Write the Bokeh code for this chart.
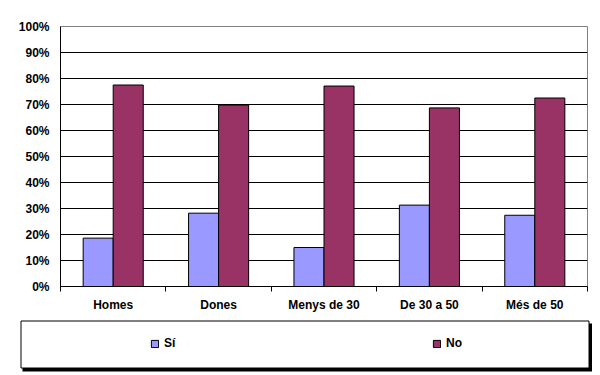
from bokeh.plotting import figure
from bokeh.layouts import column
from bokeh.models import (FixedTicker, PrintfTickFormatter, Range1d, Legend, LegendItem,
                          BoxAnnotation, ColumnDataSource)
from bokeh.embed import file_html
from bokeh.resources import INLINE

categories = ["Homes", "Dones", "Menys de 30", "De 30 a 50", "Més de 50"]
si_values = [18.6, 28.2, 15.0, 31.3, 27.4]
no_values = [77.5, 69.8, 77.1, 68.7, 72.5]
y_ticks = [0, 10, 20, 30, 40, 50, 60, 70, 80, 90, 100]
series_names = ["Sí", "No"]
series_colors = ["#9999FF", "#993366"]

FONT = "Liberation Sans"
n = len(categories)
centers = [i + 0.5 for i in range(n)]
bw = 0.285

src = ColumnDataSource(dict(
    x_si=[c - bw / 2 for c in centers],
    x_no=[c + bw / 2 for c in centers],
    si=si_values,
    no=no_values,
))

# ---------------- main chart ----------------
p = figure(width=592, height=316, x_range=Range1d(0, n), y_range=Range1d(0, 100),
           output_backend="svg", toolbar_location=None,
           min_border_left=60, min_border_right=5, min_border_top=26, min_border_bottom=30)
p.frame_align = False
p.background_fill_color = "white"
p.border_fill_color = "white"
p.outline_line_color = "#808080"
p.outline_line_width = 1

p.vbar(x="x_si", top="si", width=bw, source=src, fill_color=series_colors[0],
       line_color="black", line_width=1)
p.vbar(x="x_no", top="no", width=bw, source=src, fill_color=series_colors[1],
       line_color="black", line_width=1)

p.yaxis.ticker = FixedTicker(ticks=y_ticks)
p.yaxis.formatter = PrintfTickFormatter(format="%d%%")
p.yaxis.major_tick_out = 0
p.yaxis.major_tick_in = 0
p.yaxis.minor_tick_out = 0
p.yaxis.minor_tick_in = 0
p.yaxis.major_label_standoff = 11
p.yaxis.axis_line_color = "black"

p.xaxis.ticker = FixedTicker(ticks=centers, minor_ticks=list(range(n + 1)))
p.xaxis.major_label_overrides = {c: cat for c, cat in zip(centers, categories)}
p.xaxis.major_tick_out = 0
p.xaxis.major_tick_in = 0
p.xaxis.minor_tick_out = 5
p.xaxis.minor_tick_in = 0
p.xaxis.minor_tick_line_color = "black"
p.xaxis.major_label_standoff = 6
p.xaxis.axis_line_color = "black"

for ax in (p.xaxis, p.yaxis):
    ax.major_label_text_font = FONT
    ax.major_label_text_font_style = "bold"
    ax.major_label_text_font_size = "12px"
    ax.major_label_text_color = "black"

p.xgrid.visible = False
p.ygrid.ticker = FixedTicker(ticks=y_ticks[1:-1])
p.ygrid.grid_line_color = "black"
p.ygrid.grid_line_width = 1

# ---------------- legend panel ----------------
lp = figure(width=592, height=59, x_range=Range1d(-10, -9), y_range=Range1d(0, 1),
            output_backend="svg", toolbar_location=None,
            x_axis_type=None, y_axis_type=None,
            min_border_left=0, min_border_right=0, min_border_top=0, min_border_bottom=0)
lp.frame_align = False
lp.outline_line_color = None
lp.background_fill_color = "white"
lp.border_fill_color = "white"
lp.xgrid.visible = False
lp.ygrid.visible = False

l_si = lp.vbar(x="x_si", top="si", width=bw, source=src, fill_color=series_colors[0],
               line_color="black", line_width=1)
l_no = lp.vbar(x="x_no", top="no", width=bw, source=src, fill_color=series_colors[1],
               line_color="black", line_width=1)

shadow = BoxAnnotation(left=22, right=592, top=52, bottom=4,
                       left_units="screen", right_units="screen",
                       top_units="screen", bottom_units="screen",
                       fill_color="black", fill_alpha=1, line_alpha=0)
box = BoxAnnotation(left=20.5, right=588.5, top=54.5, bottom=7.5,
                    left_units="screen", right_units="screen",
                    top_units="screen", bottom_units="screen",
                    fill_color="white", fill_alpha=1, line_color="black", line_width=1,
                    line_alpha=1)
lp.add_layout(shadow)
lp.add_layout(box)

legend = Legend(items=[LegendItem(label=series_names[0], renderers=[l_si]),
                       LegendItem(label=series_names[1], renderers=[l_no])],
                orientation="horizontal", location=(150, 25),
                padding=0, margin=0, spacing=168,
                glyph_width=9, glyph_height=9, label_width=100, label_height=9,
                label_standoff=5,
                border_line_alpha=0, background_fill_alpha=0,
                label_text_font=FONT, label_text_font_style="bold",
                label_text_font_size="12px", label_text_color="black")
lp.add_layout(legend, "center")

layout = column(p, lp, spacing=0)
open("out.html", "w").write(file_html(layout, INLINE))
